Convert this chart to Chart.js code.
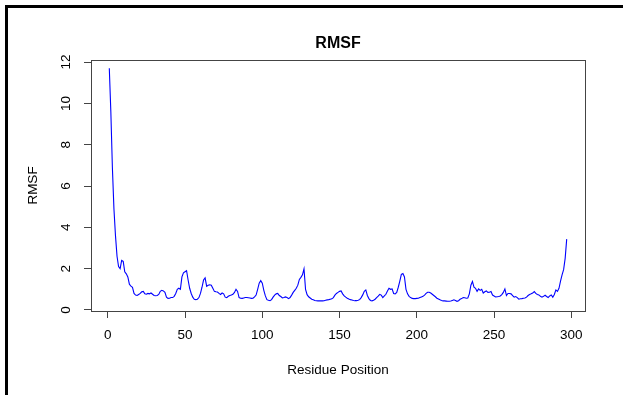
<!DOCTYPE html>
<html><head><meta charset="utf-8">
<script src="https://cdn.jsdelivr.net/npm/chart.js@4/dist/chart.umd.min.js"></script>
<style>html,body{margin:0;padding:0;background:#fff;overflow:hidden}#wrap{width:623px;height:395px;position:relative}</style>
</head><body><div id="wrap"><canvas id="c" width="623" height="395"></canvas></div>
<script>
const chartTitle = 'RMSF';
const xAxisTitle = 'Residue Position';
const yAxisTitle = 'RMSF';
const xTickValues = [0, 50, 100, 150, 200, 250, 300];
const yTickValues = [0, 2, 4, 6, 8, 10, 12];
const firstResidue = 1;
const rmsf = [
11.7,9.6,6.9,4.9,3.6,2.6,2.1,2.0,2.4,2.35,
1.85,1.75,1.6,1.25,1.15,1.1,0.8,0.72,0.7,0.75,
0.8,0.88,0.9,0.78,0.76,0.8,0.78,0.82,0.76,0.7,
0.69,0.7,0.75,0.9,0.95,0.92,0.85,0.62,0.56,0.57,
0.6,0.6,0.66,0.8,1.0,1.05,1.0,1.6,1.8,1.85,
1.9,1.45,1.05,0.8,0.62,0.52,0.5,0.52,0.6,0.8,
1.1,1.45,1.55,1.15,1.2,1.22,1.2,1.05,0.9,0.88,
0.87,0.8,0.75,0.82,0.78,0.62,0.6,0.66,0.7,0.72,
0.76,0.85,1.0,0.9,0.6,0.57,0.56,0.58,0.6,0.6,
0.59,0.58,0.56,0.57,0.63,0.72,1.0,1.3,1.42,1.3,
0.95,0.68,0.5,0.47,0.45,0.5,0.62,0.72,0.78,0.8,
0.7,0.65,0.58,0.6,0.63,0.6,0.55,0.6,0.72,0.85,
0.95,1.05,1.2,1.48,1.58,1.7,1.99,1.0,0.74,0.64,
0.58,0.52,0.49,0.46,0.45,0.44,0.44,0.44,0.44,0.45,
0.47,0.49,0.5,0.52,0.54,0.6,0.72,0.8,0.85,0.9,
0.92,0.78,0.68,0.62,0.57,0.53,0.5,0.48,0.46,0.45,
0.45,0.47,0.5,0.6,0.73,0.9,0.97,0.7,0.55,0.46,
0.44,0.47,0.52,0.6,0.67,0.75,0.72,0.6,0.68,0.76,
0.92,1.05,1.0,1.02,0.8,0.78,0.85,1.1,1.4,1.72,
1.76,1.6,1.0,0.78,0.66,0.6,0.56,0.55,0.55,0.56,
0.57,0.6,0.63,0.66,0.72,0.8,0.86,0.86,0.82,0.76,
0.7,0.64,0.57,0.53,0.49,0.46,0.44,0.44,0.43,0.42,
0.42,0.43,0.46,0.49,0.46,0.42,0.45,0.52,0.55,0.6,
0.59,0.57,0.58,0.78,1.2,1.38,1.1,1.05,0.9,1.02,
0.95,1.0,0.82,0.88,0.92,0.85,0.86,0.89,0.72,0.68,
0.63,0.64,0.65,0.68,0.74,0.85,1.02,0.7,0.8,0.8,
0.78,0.7,0.62,0.65,0.6,0.52,0.54,0.55,0.57,0.58,
0.62,0.7,0.75,0.78,0.82,0.89,0.8,0.75,0.73,0.66,
0.62,0.66,0.71,0.65,0.6,0.68,0.73,0.62,0.75,0.97,
0.9,1.05,1.4,1.7,1.95,2.5,3.43
];
const residues = rmsf.map((_, i) => firstResidue + i);

const FONT = "'Liberation Sans', Arial, Helvetica, sans-serif";

const decor = {
  id: 'decor',
  beforeDraw(chart) {
    const c = chart.ctx;
    c.save();
    c.fillStyle = '#fff';
    c.fillRect(0, 0, chart.width, chart.height);
    c.restore();
  },
  afterDraw(chart) {
    const c = chart.ctx;
    const a = chart.chartArea;
    const ys = chart.scales.y;
    c.save();
    // outer frame
    c.fillStyle = '#000';
    c.fillRect(5, 5, chart.width - 5, 3);
    c.fillRect(5, 5, 3, chart.height - 5);
    // plot box
    c.strokeStyle = '#444';
    c.lineWidth = 1;
    c.strokeRect(a.left + 0.5, a.top + 0.5, a.right - a.left, a.bottom - a.top);
    // title
    c.fillStyle = '#000';
    c.textAlign = 'center';
    c.textBaseline = 'alphabetic';
    c.font = 'bold 16px ' + FONT;
    c.fillText(chartTitle, (a.left + a.right) / 2, 48);
    // x title
    c.font = '13.5px ' + FONT;
    c.fillText(xAxisTitle, (a.left + a.right) / 2, 374);
    // y tick labels (rotated, R style)
    c.textBaseline = 'middle';
    yTickValues.forEach(v => {
      const py = ys.getPixelForValue(v);
      c.save();
      c.translate(66.5, py);
      c.rotate(-Math.PI / 2);
      c.fillText(String(v), 0, 0);
      c.restore();
    });
    // y title
    c.save();
    c.translate(33.5, (a.top + a.bottom) / 2);
    c.rotate(-Math.PI / 2);
    c.fillText(yAxisTitle, 0, 0);
    c.restore();
    c.restore();
  }
};

new Chart(document.getElementById('c'), {
  type: 'line',
  data: {
    datasets: [{
      data: residues.map((r, i) => ({ x: r, y: rmsf[i] })),
      borderColor: '#0000ff',
      borderWidth: 1.1,
      pointRadius: 0,
      tension: 0,
      fill: false
    }]
  },
  options: {
    responsive: false,
    animation: false,
    devicePixelRatio: 1,
    layout: { padding: { top: 60, right: 38, left: 0, bottom: 0 } },
    plugins: { legend: { display: false }, title: { display: false }, tooltip: { enabled: false } },
    scales: {
      x: {
        type: 'linear', min: -10.84, max: 308.84,
        afterBuildTicks: s => { s.ticks = xTickValues.map(v => ({ value: v })); },
        afterFit: s => { s.height = 84; },
        border: { display: false },
        grid: { drawOnChartArea: false, drawTicks: true, tickLength: 7, color: '#444', lineWidth: 1 },
        ticks: { display: true, font: { family: FONT, size: 13.5 }, color: '#000', padding: 9, maxRotation: 0, autoSkip: false }
      },
      y: {
        type: 'linear', min: -0.05, max: 12.1,
        afterBuildTicks: s => { s.ticks = yTickValues.map(v => ({ value: v })); },
        afterFit: s => { s.width = 91; },
        border: { display: false },
        grid: { drawOnChartArea: false, drawTicks: true, tickLength: 7, color: '#444', lineWidth: 1 },
        ticks: { display: false }
      }
    }
  },
  plugins: [decor]
});
</script></body></html>
